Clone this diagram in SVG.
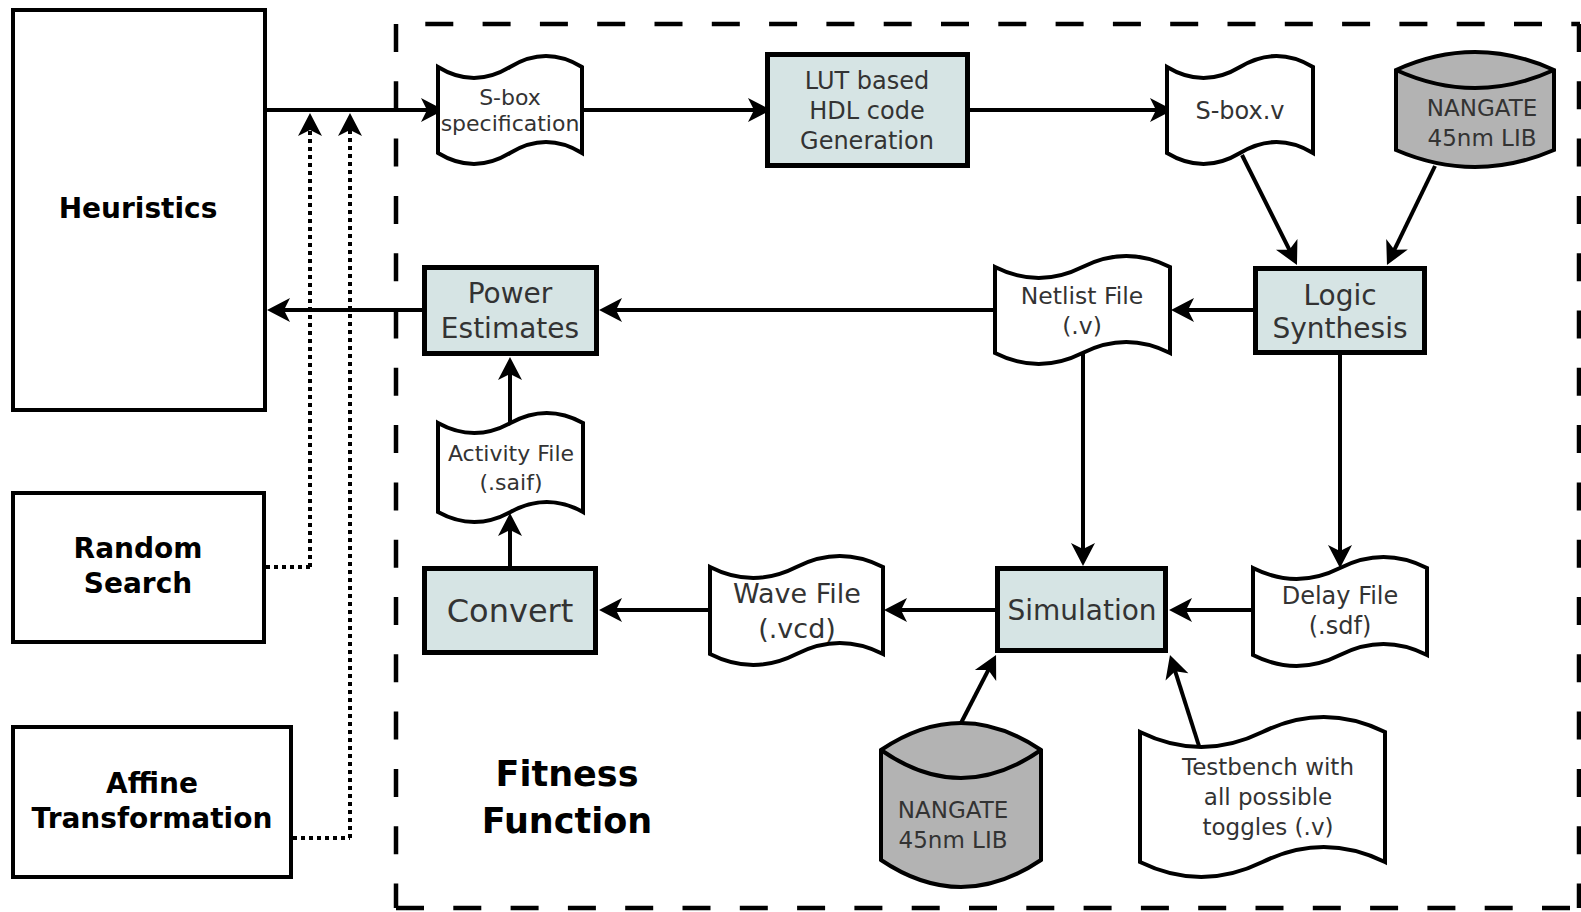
<svg xmlns="http://www.w3.org/2000/svg" width="1581" height="912" viewBox="0 0 1581 912">
<defs>
<marker id="ah" markerUnits="userSpaceOnUse" viewBox="-24 -13 25 26" markerWidth="25" markerHeight="26" refX="-6" refY="0" orient="auto">
<path d="M0,0 L-23,-12 L-17,0 L-23,12 Z" fill="#000"/>
</marker>
</defs>
<style>
.box{fill:#fff;stroke:#000;stroke-width:4}
.proc{fill:#d6e4e4;stroke:#000;stroke-width:5}
.doc{fill:#fff;stroke:#000;stroke-width:4;stroke-linejoin:miter}
.cyl{fill:#b3b3b3;stroke:#000;stroke-width:4}
.ln{fill:none;stroke:#000;stroke-width:4}
.arr{fill:none;stroke:#000;stroke-width:4;marker-end:url(#ah)}
.dot{fill:none;stroke:#000;stroke-width:4;stroke-dasharray:4 4;marker-end:url(#ah)}
.dot2{fill:none;stroke:#000;stroke-width:4;stroke-dasharray:4 4}
.bd{fill:none;stroke:#000;stroke-width:4.5;stroke-dasharray:28 29.3}
.t{font-family:"DejaVu Sans","Liberation Sans",sans-serif;fill:#333;text-anchor:middle}
.b{font-family:"DejaVu Sans","Liberation Sans",sans-serif;font-weight:bold;fill:#000;text-anchor:middle}
</style>

<g id="border">
<line class="bd" x1="396" y1="24" x2="396" y2="908"/>
<line class="bd" x1="396" y1="908" x2="1580" y2="908"/>
<line class="bd" x1="396" y1="24" x2="1580" y2="24" stroke-dashoffset="28"/>
<line class="bd" x1="1579" y1="24" x2="1579" y2="908"/>
</g>

<g id="connectors">
<path class="arr" d="M267,110 H438"/>
<path class="arr" d="M582,110 H765"/>
<path class="arr" d="M970,110 H1167"/>
<path class="arr" d="M1242,155 L1294.3,259.6"/>
<path class="arr" d="M1435,166 L1389.6,259.6"/>
<path class="arr" d="M1253,310 H1177"/>
<path class="arr" d="M995,310 H605"/>
<path class="arr" d="M422,310 H273"/>
<path class="arr" d="M1083,353 V560"/>
<path class="arr" d="M1340,355 V562"/>
<path class="arr" d="M1253,610 H1175"/>
<path class="arr" d="M995,610 H890"/>
<path class="arr" d="M710,610 H605"/>
<path class="arr" d="M510,566 V519"/>
<path class="arr" d="M510,423 V363"/>
<path class="arr" d="M961,723 L993.3,660.3"/>
<path class="arr" d="M1199,746 L1171.8,660.7"/>
<path class="dot2" d="M266,567 H310"/>
<path class="dot" d="M310,567 V119"/>
<path class="dot2" d="M293,838 H350"/>
<path class="dot" d="M350,838 V119"/>
</g>

<g id="heuristics">
<rect class="box" x="13" y="10" width="252" height="400"/>
<text class="b" x="138" y="218" font-size="28">Heuristics</text>
</g>

<g id="random-search">
<rect class="box" x="13" y="493" width="251" height="149"/>
<text class="b" x="138" y="558" font-size="28">Random</text>
<text class="b" x="138" y="593" font-size="28">Search</text>
</g>

<g id="affine">
<rect class="box" x="13" y="727" width="278" height="150"/>
<text class="b" x="152" y="793" font-size="28">Affine</text>
<text class="b" x="152" y="828" font-size="28">Transformation</text>
</g>

<g id="fitness-label">
<text class="b" x="567" y="786" font-size="35">Fitness</text>
<text class="b" x="567" y="833" font-size="35">Function</text>
</g>

<g id="sbox-spec">
<path class="doc" d="M438,67 Q474,89 510,67 T582,67 L582,153 Q546,131 510,153 T438,153 Z"/>
<text class="t" x="510" y="105" font-size="22">S-box</text>
<text class="t" x="510" y="131" font-size="22">specification</text>
</g>

<g id="lut">
<rect class="proc" x="767.5" y="54.5" width="200" height="111"/>
<text class="t" x="867" y="88.6" font-size="24">LUT based</text>
<text class="t" x="867" y="118.6" font-size="24">HDL code</text>
<text class="t" x="867" y="148.6" font-size="24">Generation</text>
</g>

<g id="sbox-v">
<path class="doc" d="M1167,67 Q1203.5,89 1240,67 T1313,67 L1313,153 Q1276.5,131 1240,153 T1167,153 Z"/>
<text class="t" x="1240" y="118.6" font-size="24">S-box.v</text>
</g>

<g id="nangate-top">
<path class="cyl" d="M1396,70 Q1475,34 1554,70 L1554,150 Q1475,184 1396,150 Z"/>
<path class="ln" d="M1396,70 Q1475,106 1554,70"/>
<text class="t" x="1482" y="116" font-size="23">NANGATE</text>
<text class="t" x="1482" y="146" font-size="23">45nm LIB</text>
</g>

<g id="power">
<rect class="proc" x="424.5" y="267.5" width="172" height="86"/>
<text class="t" x="510" y="303" font-size="28">Power</text>
<text class="t" x="510" y="338" font-size="28">Estimates</text>
</g>

<g id="netlist">
<path class="doc" d="M995,267 Q1038.75,289 1082.5,267 T1170,267 L1170,353 Q1126.25,331 1082.5,353 T995,353 Z"/>
<text class="t" x="1082" y="303.5" font-size="23.5">Netlist File</text>
<text class="t" x="1082" y="333.5" font-size="23.5">(.v)</text>
</g>

<g id="logic">
<rect class="proc" x="1255.5" y="268.5" width="169" height="84"/>
<text class="t" x="1340" y="305" font-size="28">Logic</text>
<text class="t" x="1340" y="338" font-size="28">Synthesis</text>
</g>

<g id="activity">
<path class="doc" d="M438,423 Q474.25,443 510.5,423 T583,423 L583,512 Q546.75,492 510.5,512 T438,512 Z"/>
<text class="t" x="511" y="461" font-size="22">Activity File</text>
<text class="t" x="511" y="490" font-size="22">(.saif)</text>
</g>

<g id="convert">
<rect class="proc" x="424.5" y="568.5" width="171" height="84"/>
<text class="t" x="510" y="621.5" font-size="32">Convert</text>
</g>

<g id="wave">
<path class="doc" d="M710,567 Q753.25,589 796.5,567 T883,567 L883,654 Q839.75,632 796.5,654 T710,654 Z"/>
<text class="t" x="797" y="603" font-size="27">Wave File</text>
<text class="t" x="797" y="638" font-size="27">(.vcd)</text>
</g>

<g id="simulation">
<rect class="proc" x="997.5" y="568.5" width="168" height="82"/>
<text class="t" x="1082" y="620" font-size="28">Simulation</text>
</g>

<g id="delay">
<path class="doc" d="M1253,568 Q1296.5,590 1340,568 T1427,568 L1427,655 Q1383.5,633 1340,655 T1253,655 Z"/>
<text class="t" x="1340" y="603.6" font-size="24">Delay File</text>
<text class="t" x="1340" y="633.6" font-size="24">(.sdf)</text>
</g>

<g id="nangate-bottom">
<path class="cyl" d="M881,750 Q961,696 1041,750 L1041,860 Q961,914 881,860 Z"/>
<path class="ln" d="M881,750 Q961,806 1041,750"/>
<text class="t" x="953" y="818" font-size="23">NANGATE</text>
<text class="t" x="953" y="848" font-size="23">45nm LIB</text>
</g>

<g id="testbench">
<path class="doc" d="M1140,732 Q1201.25,762 1262.5,732 T1385,732 L1385,862 Q1323.75,832 1262.5,862 T1140,862 Z"/>
<text class="t" x="1268" y="775" font-size="23">Testbench with</text>
<text class="t" x="1268" y="805" font-size="23">all possible</text>
<text class="t" x="1268" y="835" font-size="23">toggles (.v)</text>
</g>
</svg>
